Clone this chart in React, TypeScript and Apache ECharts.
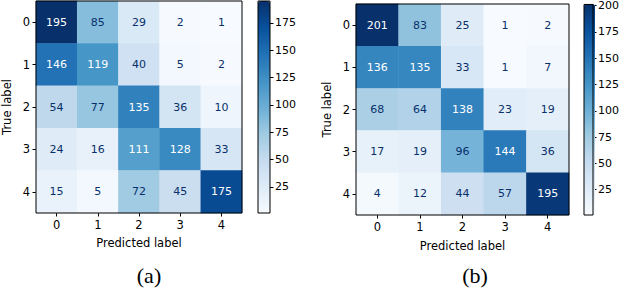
import React, { useEffect, useRef } from "react";
import * as echarts from "echarts";

const classes = ["0", "1", "2", "3", "4"];
const matrixA = [
  [195, 85, 29, 2, 1],
  [146, 119, 40, 5, 2],
  [54, 77, 135, 36, 10],
  [24, 16, 111, 128, 33],
  [15, 5, 72, 45, 175],
];
const matrixB = [
  [201, 83, 25, 1, 2],
  [136, 135, 33, 1, 7],
  [68, 64, 138, 23, 19],
  [17, 19, 96, 144, 36],
  [4, 12, 44, 57, 195],
];
const ticksA = [25, 50, 75, 100, 125, 150, 175];
const ticksB = [25, 50, 75, 100, 125, 150, 175, 200];
const captions = ["(a)", "(b)"];
const xName = "Predicted label";
const yName = "True label";

const BLUES = ["#f7fbff", "#deebf7", "#c6dbef", "#9ecae1", "#6baed6", "#4292c6", "#2171b5", "#08519c", "#08306b"];
const FONT = "DejaVu Sans";

function toData(m: number[][]) {
  const flat = m.flat();
  const mn = Math.min(...flat);
  const mx = Math.max(...flat);
  const thr = (mn + mx) / 2;
  const out: any[] = [];
  m.forEach((row, y) =>
    row.forEach((v, x) => {
      out.push({ value: [x, y, v], label: { color: v > thr ? "#ffffff" : "#08306b" } });
    })
  );
  return { data: out, mn, mx };
}

export default function App() {
  const ref = useRef<HTMLDivElement>(null);
  useEffect(() => {
    const chart = echarts.init(ref.current!, undefined, { renderer: "svg" });
    const A = toData(matrixA);
    const B = toData(matrixB);
    const grids = [
      { left: 31, top: 1, width: 211, height: 212 },
      { left: 356, top: 4, width: 213, height: 211 },
    ];
    const bars = [
      { left: 258, top: 1, width: 12, height: 212 },
      { left: 584, top: 4, width: 11, height: 211 },
    ];
    const nameGaps = [24, 25];
    const captionX = [149, 475];
    const sets = [A, B];
    const ticks = [ticksA, ticksB];

    const grid: any[] = [];
    const xAxis: any[] = [];
    const yAxis: any[] = [];
    const series: any[] = [];
    const visualMap: any[] = [];

    sets.forEach((s, i) => {
      const g = grids[i];
      grid.push({ ...g, show: true, borderColor: "#000", borderWidth: 1, backgroundColor: "transparent", z: 10 });
      xAxis.push({
        type: "category",
        gridIndex: i * 2,
        data: classes,
        name: xName,
        nameLocation: "middle",
        nameGap: nameGaps[i],
        nameTextStyle: { fontFamily: FONT, fontSize: 11.5, color: "#000" },
        axisLine: { show: false },
        axisTick: { show: true, alignWithLabel: true, length: 3.5, lineStyle: { color: "#000" } },
        axisLabel: { fontFamily: FONT, fontSize: 11.5, color: "#000", margin: 6 },
        splitLine: { show: false },
        splitArea: { show: false },
      });
      yAxis.push({
        type: "category",
        gridIndex: i * 2,
        data: classes,
        inverse: true,
        name: yName,
        nameLocation: "middle",
        nameGap: 23,
        nameRotate: 90,
        nameTextStyle: { fontFamily: FONT, fontSize: 11.5, color: "#000" },
        axisLine: { show: false },
        axisTick: { show: true, alignWithLabel: true, length: 3.5, lineStyle: { color: "#000" } },
        axisLabel: { fontFamily: FONT, fontSize: 11.5, color: "#000", margin: 6 },
        splitLine: { show: false },
        splitArea: { show: false },
      });
      series.push({
        type: "heatmap",
        xAxisIndex: i * 2,
        yAxisIndex: i * 2,
        data: s.data,
        label: { show: true, fontFamily: FONT, fontSize: 11 },
        itemStyle: { borderWidth: 0 },
        emphasis: { disabled: true },
      });
      const b = bars[i];
      grid.push({ ...b, show: true, borderColor: "#000", borderWidth: 1, backgroundColor: "transparent", z: 10 });
      xAxis.push({ type: "category", gridIndex: i * 2 + 1, data: [""], show: false });
      yAxis.push({
        type: "value",
        gridIndex: i * 2 + 1,
        position: "right",
        min: s.mn,
        max: s.mx,
        axisLine: { show: false },
        axisTick: { show: true, length: 3.5, lineStyle: { color: "#000" }, customValues: ticks[i] },
        axisLabel: { fontFamily: FONT, fontSize: 11, color: "#000", margin: 5, customValues: ticks[i] },
        splitLine: { show: false },
      });
      visualMap.push({
        type: "continuous",
        seriesIndex: i,
        min: s.mn,
        max: s.mx,
        calculable: false,
        hoverLink: false,
        left: b.left,
        top: b.top,
        itemWidth: b.width,
        itemHeight: b.height,
        padding: 0,
        text: null,
        showLabel: false,
        inRange: { color: BLUES },
      });
    });

    chart.setOption({
      animation: false,
      backgroundColor: "#ffffff",
      grid,
      xAxis,
      yAxis,
      series,
      visualMap,
      title: captions.map((c, i) => ({
        text: c,
        left: captionX[i],
        top: 264,
        padding: 0,
        textAlign: "center",
        textStyle: { fontFamily: "Liberation Serif", fontSize: 22, fontWeight: "normal", color: "#000" },
      })),
    });
    return () => chart.dispose();
  }, []);
  return <div ref={ref} style={{ position: "fixed", left: 0, top: 0, width: 622, height: 288 }} />;
}
